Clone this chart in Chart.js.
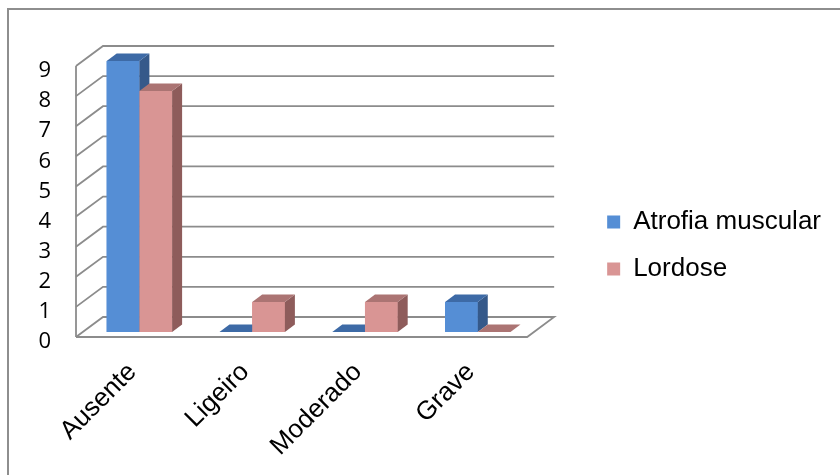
<!DOCTYPE html>
<html>
<head>
<meta charset="utf-8">
<script src="https://cdn.jsdelivr.net/npm/chart.js@4.4.1/dist/chart.umd.min.js"></script>
<style>
  html, body { margin: 0; padding: 0; background: #fff; }
  #wrap { position: relative; width: 840px; height: 475px; }
</style>
</head>
<body>
<div id="wrap"><canvas id="chart"></canvas></div>
<script>
const categories = ['Ausente', 'Ligeiro', 'Moderado', 'Grave'];
const atrofiaMuscular = [9, 0, 0, 1];
const lordose = [8, 1, 1, 0];
const yMin = 0;
const yMax = 9;

// perspective: front wall sits a bit left/below the bar plane, back wall right/above
const FRONT = { dx: -7, dy: 5 };
const BACK = { dx: 20, dy: -15 };
const BAR_DEPTH = { dx: 10, dy: -7.5 };
const GRID = '#8c8c8c';

const frame = {
  id: 'frame',
  beforeDraw(chart) {
    const ctx = chart.ctx;
    ctx.save();
    ctx.fillStyle = '#fff';
    ctx.fillRect(0, 0, chart.width, chart.height);
    ctx.strokeStyle = '#8e8e8e';
    ctx.lineWidth = 2;
    ctx.beginPath();
    ctx.moveTo(8, chart.height);
    ctx.lineTo(8, 9);
    ctx.lineTo(chart.width, 9);
    ctx.stroke();
    ctx.restore();
  }
};

const walls = {
  id: 'walls',
  beforeDatasetsDraw(chart) {
    const { ctx, chartArea, scales } = chart;
    const y = scales.y;
    const l = chartArea.left, r = chartArea.right;
    ctx.save();
    ctx.strokeStyle = GRID;
    ctx.lineWidth = 1.8;
    y.ticks.forEach(t => {
      const py = y.getPixelForValue(t.value);
      ctx.beginPath();
      ctx.moveTo(l + FRONT.dx, py + FRONT.dy);
      ctx.lineTo(l + BACK.dx, py + BACK.dy);
      ctx.lineTo(r + BACK.dx, py + BACK.dy);
      if (t.value === yMin) {
        ctx.lineTo(r + FRONT.dx, py + FRONT.dy);
        ctx.lineTo(l + FRONT.dx, py + FRONT.dy);
      }
      ctx.stroke();
    });
    const top = y.getPixelForValue(yMax), bottom = y.getPixelForValue(yMin);
    ctx.beginPath();
    ctx.moveTo(l + FRONT.dx, top + FRONT.dy);
    ctx.lineTo(l + FRONT.dx, bottom + FRONT.dy);
    ctx.stroke();
    ctx.restore();
  }
};

// front, side and top of every bar, series by series so the right-hand bar
// covers the side face of its neighbour
const bar3d = {
  id: 'bar3d',
  afterDatasetsDraw(chart) {
    const ctx = chart.ctx;
    const { dx, dy } = BAR_DEPTH;
    ctx.save();
    chart.data.datasets.forEach((ds, i) => {
      chart.getDatasetMeta(i).data.forEach(bar => {
        const { x, y, base, width } = bar.getProps(['x', 'y', 'base', 'width'], true);
        const x0 = x - width / 2, x1 = x + width / 2;
        bar.draw(ctx);
        ctx.fillStyle = ds.sideColor;
        ctx.beginPath();
        ctx.moveTo(x1, y);
        ctx.lineTo(x1 + dx, y + dy);
        ctx.lineTo(x1 + dx, base + dy);
        ctx.lineTo(x1, base);
        ctx.closePath();
        ctx.fill();
        ctx.fillStyle = ds.topColor;
        ctx.beginPath();
        ctx.moveTo(x0, y);
        ctx.lineTo(x1, y);
        ctx.lineTo(x1 + dx, y + dy);
        ctx.lineTo(x0 + dx, y + dy);
        ctx.closePath();
        ctx.fill();
      });
    });
    ctx.restore();
  }
};

const labelFont = { family: "'Liberation Sans', Arial, sans-serif", size: 26 };

new Chart(document.getElementById('chart'), {
  type: 'bar',
  data: {
    labels: categories,
    datasets: [
      {
        label: 'Atrofia muscular',
        data: atrofiaMuscular,
        backgroundColor: '#558ed5',
        topColor: '#3d6aa6',
        sideColor: '#35598a'
      },
      {
        label: 'Lordose',
        data: lordose,
        backgroundColor: '#d99594',
        topColor: '#ab7473',
        sideColor: '#8e5c5b'
      }
    ]
  },
  options: {
    responsive: true,
    maintainAspectRatio: false,
    animation: false,
    layout: { padding: { left: 20, top: 16, right: 9, bottom: 0 } },
    datasets: {
      bar: { categoryPercentage: 0.58, barPercentage: 1, borderWidth: 0 }
    },
    scales: {
      x: {
        grid: { display: false },
        border: { display: false },
        ticks: {
          color: '#000',
          font: labelFont,
          minRotation: 45,
          maxRotation: 45,
          padding: 17,
          labelOffset: -7
        },
        afterFit(scale) { scale.height = 143; }
      },
      y: {
        min: yMin,
        max: yMax,
        grid: { display: false, drawTicks: false },
        border: { display: false },
        ticks: {
          stepSize: 1,
          color: '#000',
          font: { family: "'Open Sans', sans-serif", size: 22 },
          padding: 32,
          labelOffset: 10
        },
        afterFit(scale) { scale.width = 63; }
      },
      // empty right-hand axis, only keeps room for the back wall
      spacer: {
        type: 'linear',
        position: 'right',
        display: true,
        grid: { display: false, drawTicks: false },
        border: { display: false },
        ticks: { display: false },
        afterFit(scale) { scale.width = 52; }
      }
    },
    plugins: {
      title: {
        display: true,
        text: '',
        fullSize: false,
        font: { size: 10, lineHeight: 1 },
        padding: { top: 0, bottom: 35 }
      },
      legend: {
        position: 'right',
        maxWidth: 250,
        labels: {
          boxWidth: 13,
          boxHeight: 13,
          padding: 21,
          color: '#000',
          font: labelFont
        }
      },
      tooltip: { enabled: false }
    }
  },
  plugins: [frame, walls, bar3d]
});
</script>
</body>
</html>
